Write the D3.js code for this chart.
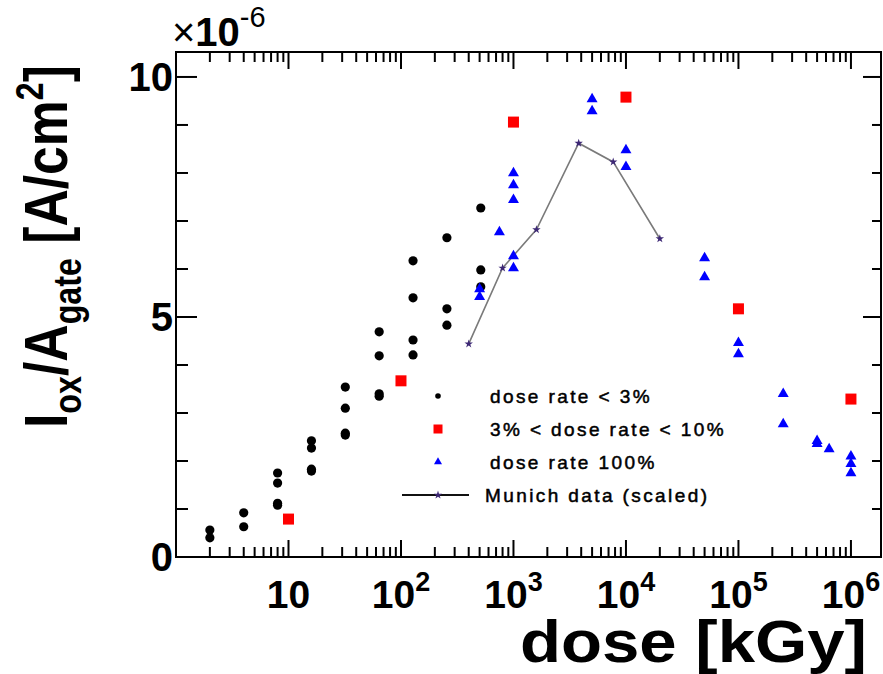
<!DOCTYPE html>
<html>
<head>
<meta charset="utf-8">
<script src="https://cdn.jsdelivr.net/npm/d3@7"></script>
<style>
  body { margin: 0; background: #fff; }
  svg { display: block; font-family: "Liberation Sans", Arial, Helvetica, sans-serif; }
</style>
</head>
<body>
<div id="chart"></div>
<script>
// dose in kGy, current density in units of 1e-6 A/cm2
const lowRateDose = [2, 2, 4, 4, 8, 8, 8, 8, 16, 16, 16, 16, 32, 32, 32, 32, 64, 64, 64, 64,
  128, 128, 128, 128, 256, 256, 256, 512, 512, 512];
const lowRateCurrent = [0.56, 0.40, 0.92, 0.63, 1.75, 1.54, 1.12, 1.08, 2.42, 2.27, 1.83, 1.79,
  3.54, 3.10, 2.58, 2.54, 4.69, 4.19, 3.40, 3.35, 6.17, 5.40, 4.52, 4.21, 6.65, 5.17, 4.83,
  7.27, 5.98, 5.63];

const midRateDose = [10, 100, 1000, 10000, 100000, 1000000];
const midRateCurrent = [0.79, 3.67, 9.06, 9.58, 5.17, 3.29];

const fullRateDose = [500, 500, 750, 1000, 1000, 1000, 1000, 1000, 5000, 5000, 10000, 10000,
  50000, 50000, 100000, 100000, 250000, 250000, 500000, 500000, 640000, 1000000, 1000000, 1000000];
const fullRateCurrent = [5.60, 5.44, 6.79, 8.02, 7.77, 7.46, 6.29, 6.04, 9.56, 9.31, 8.50, 8.15,
  6.25, 5.85, 4.48, 4.25, 3.42, 2.79, 2.44, 2.38, 2.27, 2.12, 1.96, 1.77];

const munichDose = [400, 800, 1600, 3800, 7700, 20000];
const munichCurrent = [4.44, 6.02, 6.82, 8.62, 8.23, 6.63];

const legendLabels = ["dose rate < 3%", "3% < dose rate < 10%", "dose rate 100%", "Munich data (scaled)"];
const yTickLabels = ["0", "5", "10"];

const width = 883, height = 674;
const margin = {top: 52, right: 2, bottom: 117, left: 176};

const svg = d3.select("#chart").append("svg")
  .attr("width", width)
  .attr("height", height);

const x = d3.scaleLog()
  .domain([1, 1.85e6])
  .range([margin.left, width - margin.right]);
const y = d3.scaleLinear()
  .domain([0, 10.52])
  .range([height - margin.bottom, margin.top]);

const x0 = x.range()[0], x1 = x.range()[1];
const y0 = y.range()[0], y1 = y.range()[1];

// ticks
const isMajor = v => Math.abs(Math.log10(v) - Math.round(Math.log10(v))) < 1e-9;
const xt = x.ticks().filter(v => v > 1 && v <= x.domain()[1]);
const ticks = svg.append("g").attr("stroke", "#000").attr("stroke-width", 2);
xt.forEach(v => {
  const len = isMajor(v) ? 17 : 10;
  ticks.append("line").attr("x1", x(v)).attr("x2", x(v)).attr("y1", y0).attr("y2", y0 - len);
  ticks.append("line").attr("x1", x(v)).attr("x2", x(v)).attr("y1", y1).attr("y2", y1 + len);
});
d3.range(0, 11).forEach(v => {
  const major = v % 5 === 0;
  ticks.append("line").attr("x1", x0).attr("x2", x0 + (major ? 21 : 12)).attr("y1", y(v)).attr("y2", y(v));
  ticks.append("line").attr("x1", x1).attr("x2", x1 - (major ? 18 : 9)).attr("y1", y(v)).attr("y2", y(v));
});

svg.append("rect")
  .attr("x", x0).attr("y", y1)
  .attr("width", x1 - x0).attr("height", y0 - y1)
  .attr("fill", "none").attr("stroke", "#000").attr("stroke-width", 2);

// x tick labels
xt.filter(v => isMajor(v) && v >= 10).forEach(v => {
  const p = Math.round(Math.log10(v));
  const t = svg.append("text")
    .attr("x", x(v)).attr("y", 608)
    .attr("text-anchor", "middle")
    .attr("font-size", 39).attr("font-weight", "bold");
  t.append("tspan").text("10");
  if (p > 1) t.append("tspan").attr("font-size", 27).attr("dy", -17).text(p);
});

// y tick labels
[0, 5, 10].forEach((v, i) => {
  svg.append("text")
    .attr("x", x0 - 3).attr("y", y(v)).attr("dy", "0.36em")
    .attr("text-anchor", "end")
    .attr("font-size", 40).attr("font-weight", "bold")
    .text(yTickLabels[i]);
});

// exponent label
const ex = svg.append("text").attr("x", 172).attr("y", 46).attr("font-size", 40);
ex.append("tspan").attr("font-weight", "normal").text("\u00d7");
ex.append("tspan").attr("font-weight", "bold").text("10");
ex.append("tspan").attr("font-size", 29).attr("dy", -19).text("-6");

// axis titles
const fitX = (sel, target) => {
  const w = sel.node().getComputedTextLength();
  return target / w;
};
const xTitle = svg.append("text")
  .attr("font-size", 60).attr("font-weight", "bold")
  .text("dose [kGy]");
const sx = fitX(xTitle, 347);
xTitle.attr("transform", `translate(520,662) scale(${sx},1)`);

const yTitle = svg.append("text")
  .attr("font-size", 61).attr("font-weight", "bold");
yTitle.append("tspan").text("I");
yTitle.append("tspan").attr("font-size", 38).attr("dy", 14).text("ox");
yTitle.append("tspan").attr("dy", -14).text("/A");
yTitle.append("tspan").attr("font-size", 38).attr("dy", 14).text("gate");
yTitle.append("tspan").attr("dy", -14).text(" [A/cm");
yTitle.append("tspan").attr("font-size", 38).attr("dy", -24).text("2");
yTitle.append("tspan").attr("dy", 24).text("]");
const sy = fitX(yTitle, 363);
yTitle.attr("transform", `translate(67,428) rotate(-90) scale(${sy},1)`);

// Munich line
const munich = munichDose.map((d, i) => [d, munichCurrent[i]]);
svg.append("path")
  .datum(munich)
  .attr("fill", "none").attr("stroke", "#7a7a7a").attr("stroke-width", 1.6)
  .attr("d", d3.line().x(d => x(d[0])).y(d => y(d[1])));

const star = d3.symbol().type(d3.symbolStar);
const tri = d3.symbol().type(d3.symbolTriangle);

svg.append("g").selectAll("circle")
  .data(lowRateDose.map((d, i) => [d, lowRateCurrent[i]]))
  .join("circle")
  .attr("cx", d => x(d[0])).attr("cy", d => y(d[1]))
  .attr("r", 4.6).attr("fill", "#000");

svg.append("g").selectAll("rect")
  .data(midRateDose.map((d, i) => [d, midRateCurrent[i]]))
  .join("rect")
  .attr("x", d => x(d[0]) - 5.5).attr("y", d => y(d[1]) - 5.5)
  .attr("width", 11).attr("height", 11).attr("fill", "#ff0000");

svg.append("g").selectAll("path")
  .data(fullRateDose.map((d, i) => [d, fullRateCurrent[i]]))
  .join("path")
  .attr("transform", d => `translate(${x(d[0])},${y(d[1]) + 1})`)
  .attr("d", tri.size(52)).attr("fill", "#0000ff");

svg.append("g").selectAll("path")
  .data(munich)
  .join("path")
  .attr("transform", d => `translate(${x(d[0])},${y(d[1])})`)
  .attr("d", star.size(22)).attr("fill", "#3d2875");

// legend
const lx = 438, rows = [396, 429, 462, 495];
const lg = svg.append("g");
lg.append("circle").attr("cx", lx).attr("cy", rows[0]).attr("r", 2.8).attr("fill", "#000");
lg.append("rect").attr("x", lx - 4.5).attr("y", rows[1] - 4.5).attr("width", 9).attr("height", 9).attr("fill", "#ff0000");
lg.append("path").attr("transform", `translate(${lx},${rows[2]})`).attr("d", tri.size(28)).attr("fill", "#0000ff");
lg.append("line").attr("x1", 402).attr("x2", 469).attr("y1", rows[3]).attr("y2", rows[3])
  .attr("stroke", "#111").attr("stroke-width", 2);
lg.append("path").attr("transform", `translate(${lx},${rows[3]})`).attr("d", star.size(22)).attr("fill", "#3d2875");
legendLabels.forEach((s, i) => {
  lg.append("text")
    .attr("x", i === 3 ? 485 : 490).attr("y", rows[i] + 7)
    .attr("font-size", 19).attr("letter-spacing", 2.4)
    .attr("fill", "#000").attr("stroke", "#000").attr("stroke-width", 0.5)
    .text(s);
});
</script>
</body>
</html>
